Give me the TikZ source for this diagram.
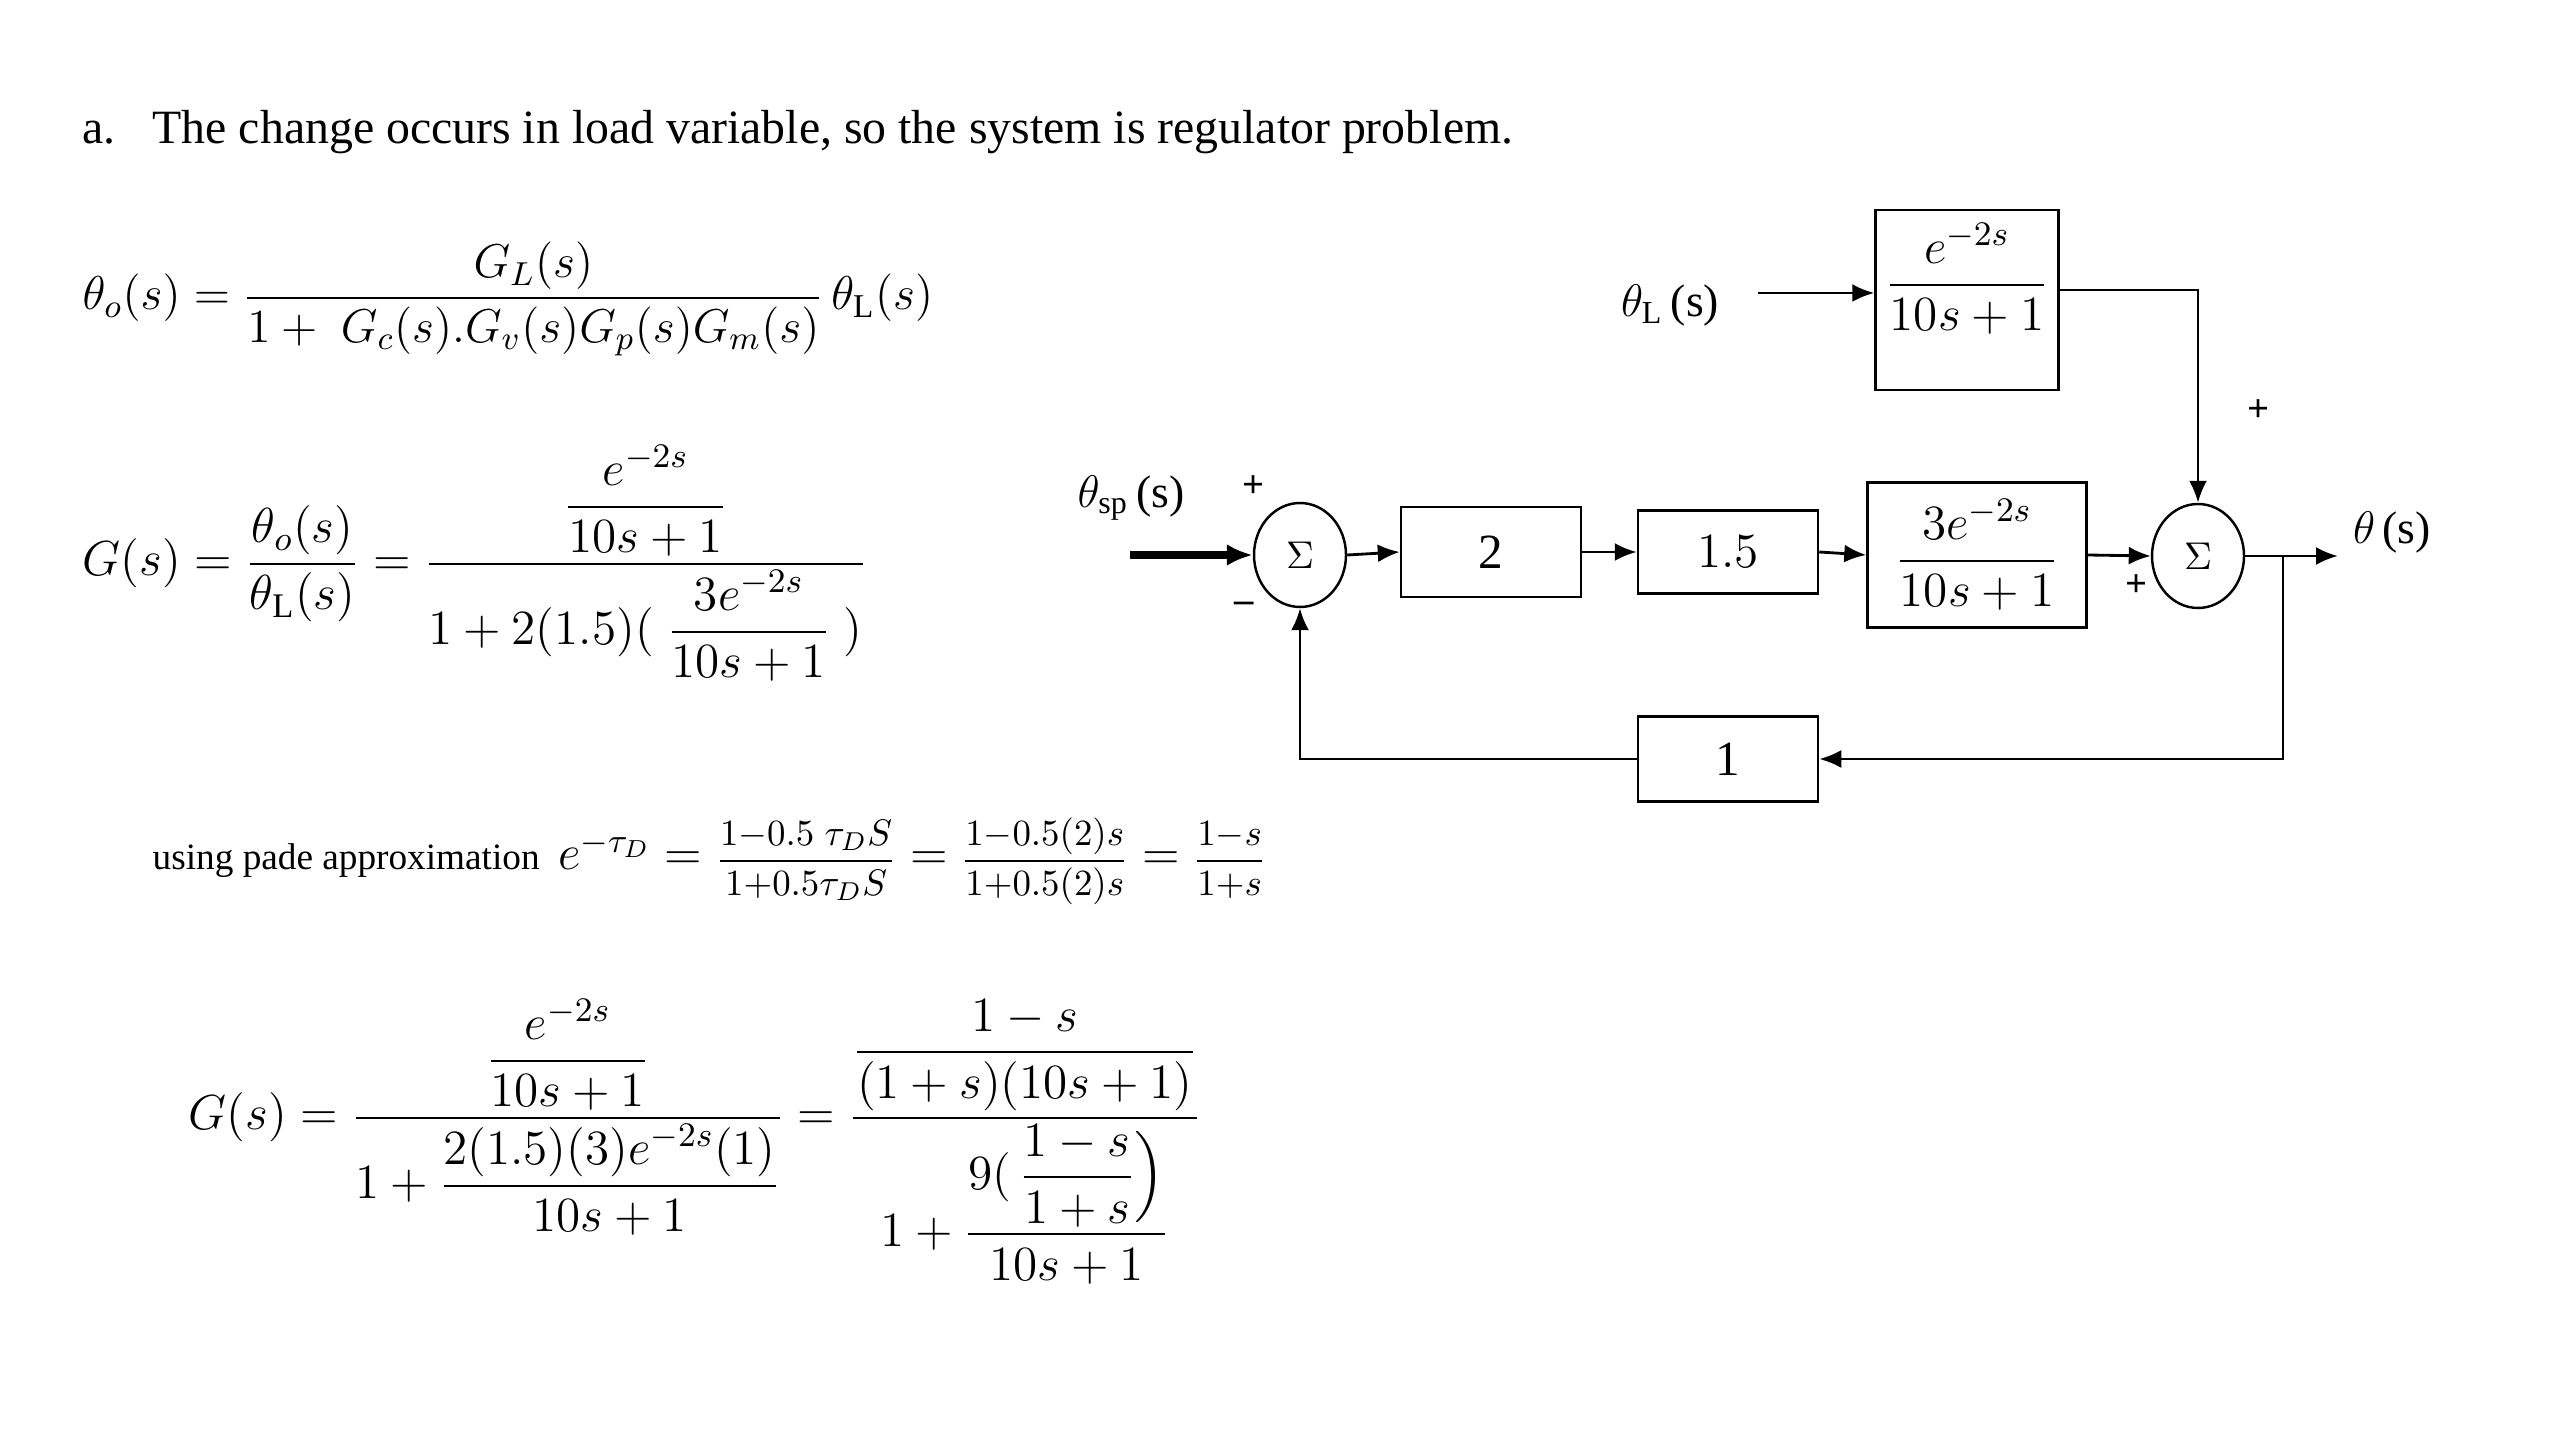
\RequirePackage{fix-cm}
\documentclass[tikz,border=0pt]{standalone}
\usepackage{amsmath}
\usepackage{fontspec}
\setmainfont{Liberation Serif}
\usetikzlibrary{arrows.meta, positioning, shapes.geometric}
\tikzset{
	block/.style={draw, line width=0.7pt, shape=rectangle, minimum width=1.8cm, minimum height=0.9cm, inner sep=0pt, font=\fontsize{14}{16}\selectfont},
	summer/.style={draw, line width=0.7pt, shape=ellipse, minimum width=0.92cm, minimum height=1.04cm, inner sep=0pt, font=\fontsize{11}{12}\selectfont},
	signal/.style={-{Latex[length=2.2mm, width=1.8mm]}, line width=0.8pt},
	mainin/.style={-{Latex[length=2.6mm, width=2.2mm]}, line width=2pt},
	wire/.style={line width=0.8pt},
	sign/.style={font=\fontsize{11}{12}\selectfont\bfseries, inner sep=0pt},
	varlabel/.style={font=\fontsize{13}{15}\selectfont, inner sep=0pt},
	equation/.style={anchor=base west, inner sep=0pt, font=\fontsize{14}{16}\selectfont},
	annotation/.style={anchor=base west, inner sep=0pt}
}

\begin{document}
\begin{tikzpicture}[node distance = 2cm, on grid, auto]
	\useasboundingbox (0,0) rectangle (25.6,14.4);
	
	% Text and equations
	\node[annotation, font=\fontsize{13.6}{16}\selectfont] (title) at (0.82,12.96)
		{\makebox[0.7cm][l]{a.}The change occurs in load variable, so the system is regulator problem.};
	
	\node[equation, font=\fontsize{13.5}{16}\selectfont] (eqone) at (0.82,11.30)
		{$\theta_o(s)=\dfrac{G_L(s)}{1+\;G_c(s).G_v(s)G_p(s)G_m(s)}\,\theta_{\mathrm{L}}(s)$};
	
	\node[equation] (eqtwo) at (0.82,8.64)
		{$G(s)=\dfrac{\theta_o(s)}{\theta_{\mathrm{L}}(s)}=\dfrac{\dfrac{e^{-2s}}{10s+1}}{1+2(1.5)(\;\dfrac{3e^{-2s}}{10s+1}\;)}$};
	
	\node[annotation, font=\fontsize{10.6}{12}\selectfont] (pade) at (1.52,5.70)
		{using pade approximation\ \ {\fontsize{14}{16}\selectfont$e^{-\tau_D}=
		\mbox{\fontsize{10.5}{12}\selectfont$\dfrac{1{-}0.5\;\tau_D S}{1{+}0.5\tau_D S}$}=
		\mbox{\fontsize{10.5}{12}\selectfont$\dfrac{1{-}0.5(2)s}{1{+}0.5(2)s}$}=
		\mbox{\fontsize{10.5}{12}\selectfont$\dfrac{1{-}s}{1{+}s}$}$}};
	
	\node[equation] (eqfour) at (1.88,3.10)
		{$G(s)=\dfrac{\dfrac{e^{-2s}}{10s+1}}{1+\dfrac{2(1.5)(3)e^{-2s}(1)}{10s+1}}
		=\dfrac{\dfrac{1-s}{(1+s)(10s+1)}}{1+\dfrac{9(\,\dfrac{1-s}{1+s}\Big)}{10s+1}}$};
	
	% Nodes
	\node (S1) [summer] at (13.00,8.85) {$\Sigma$};
	\node (B2) [block, right = 1.91cm of S1, yshift=0.03cm] {2};
	\node (B15) [block, right = 2.37cm of B2, minimum height=0.83cm] {$1.5$};
	\node (BP) [block, right = 2.49cm of B15, yshift=-0.03cm, minimum width=2.19cm, minimum height=1.45cm] {$\dfrac{3e^{-2s}}{10s+1}$};
	\node (S2) [summer, right = 2.21cm of BP, yshift=-0.01cm] {$\Sigma$};
	\node (BF) [block, below = 2.07cm of B15, minimum height=0.85cm] {1};
	\node (BL) [block, above left = 2.55cm and 0.10cm of BP, minimum width=1.83cm, minimum height=1.80cm,
		label={[yshift=0.21cm, font=\fontsize{14}{16}\selectfont]center:$\dfrac{e^{-2s}}{10s+1}$}] {};
	
	% Coordinates
	\coordinate[left = 1.70cm of S1] (in);
	\coordinate[right = 1.40cm of S2] (out);
	\coordinate[right = 0.85cm of S2] (branch);
	\coordinate[left = 2.09cm of BL, yshift=0.07cm] (Lin);
	
	% Annotations
	\node[varlabel, above left = 0.57cm and 1.69cm of S1] (spl) {$\theta_{\mathrm{sp}}$\,(s)};
	\node[varlabel, above right = 0.23cm and 1.94cm of S2] (outl) {$\theta$\,(s)};
	\node[varlabel, left = 2.97cm of BL, yshift=-0.06cm] (Ll) {$\theta_{\mathrm{L}}$\,(s)};
	\node[sign, above left = 0.68cm and 0.46cm of S1] (p1) {+};
	\node[sign, below left = 0.52cm and 0.56cm of S1] (m1) {–};
	\node[sign, below left = 0.30cm and 0.62cm of S2] (p2) {+};
	\node[sign, above right = 1.45cm and 0.60cm of S2] (p3) {+};
	
	% Arrows
	\draw[mainin] (in) -- (S1.west);
	\draw[signal] (S1.east) -- (B2.west);
	\draw[signal] (B2.east) -- (B15.west);
	\draw[signal] (B15.east) -- (BP.west);
	\draw[signal] (BP.east) -- (S2.west);
	\draw[signal] (S2.east) -- (out);
	\draw[signal] (Lin) -- (Lin -| BL.west);
	\draw[signal] ([yshift=1mm]BL.east) -| (S2.north);
	\draw[signal] (branch) |- (BF.east);
	\draw[signal] (BF.west) -| (S1.south);
	
\end{tikzpicture}
\end{document}
